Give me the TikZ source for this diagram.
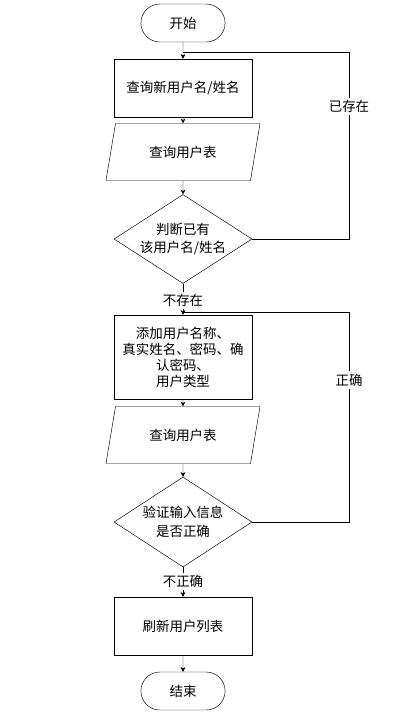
\documentclass[tikz,border=0pt]{standalone}
\usepackage{fontspec}
\setmainfont{Noto Sans CJK SC}
\usetikzlibrary{positioning, arrows.meta, shapes.geometric, shapes.misc}

\begin{document}
\begin{tikzpicture}[
    x=0.03cm, y=-0.03cm,
    font=\fontsize{11.5}{13.6}\selectfont,
    terminal/.style={rounded rectangle, draw, minimum width=2.76cm, minimum height=1.14cm},
    process/.style={rectangle, draw, minimum width=4.14cm, minimum height=1.74cm, align=center},
    io/.style={trapezium, draw, trapezium left angle=65, trapezium right angle=115, trapezium stretches body, minimum width=4.62cm, minimum height=1.71cm},
    decision/.style={diamond, draw, minimum width=4.14cm, minimum height=2.67cm, inner sep=0pt},
    dtext/.style={align=center, font={\fontsize{11.5}{15.7}\selectfont}},
    arrow/.style={-{Stealth[length=4pt, width=4pt]}},
    tag/.style={fill=white, inner sep=2pt}
]
\useasboundingbox (0,0) rectangle (407,715);

% Nodes
\node[terminal] (start) at (183,23) {开始};
\node[process] (query) at (183,88) {查询新用户名/姓名};
\node[io] (table1) at (183,152) {查询用户表};
\node[decision, label={[dtext]center:{判断已有\\该用户名/姓名}}] (exists) at (183,239) {};
\node[process, minimum height=2.52cm] (add) at (183,357) {添加用户名称、\\真实姓名、密码、确\\认密码、\\用户类型};
\node[io] (table2) at (183,435) {查询用户表};
\node[decision, minimum height=2.7cm, label={[dtext]center:{验证输入信息\\是否正确}}] (valid) at (183,522) {};
\node[process] (refresh) at (183,626) {刷新用户列表};
\node[terminal, minimum height=1.14cm] (stop) at (183,691) {结束};

% Loop corners
\coordinate (join1) at (183,52);
\coordinate (corner1) at (349,52);
\coordinate (join2) at (183,312);
\coordinate (corner2) at (349,312);

% Arrows
\draw[arrow] (start) -- (query);
\draw[arrow] (query) -- (table1);
\draw[arrow] (table1) -- (exists);
\draw (exists.east) -| (corner1) node[pos=0.855, tag] {已存在} -- (join1);
\draw[arrow] (exists) -- (add) node[pos=0.53, tag] {不存在};
\draw[arrow] (add) -- (table2);
\draw[arrow] (table2) -- (valid);
\draw (valid.east) -| (corner2) node[pos=0.838, tag] {正确} -- (join2);
\draw[arrow] (valid) -- (refresh) node[pos=0.48, tag] {不正确};
\draw[arrow] (refresh) -- (stop);

\end{tikzpicture}
\end{document}
